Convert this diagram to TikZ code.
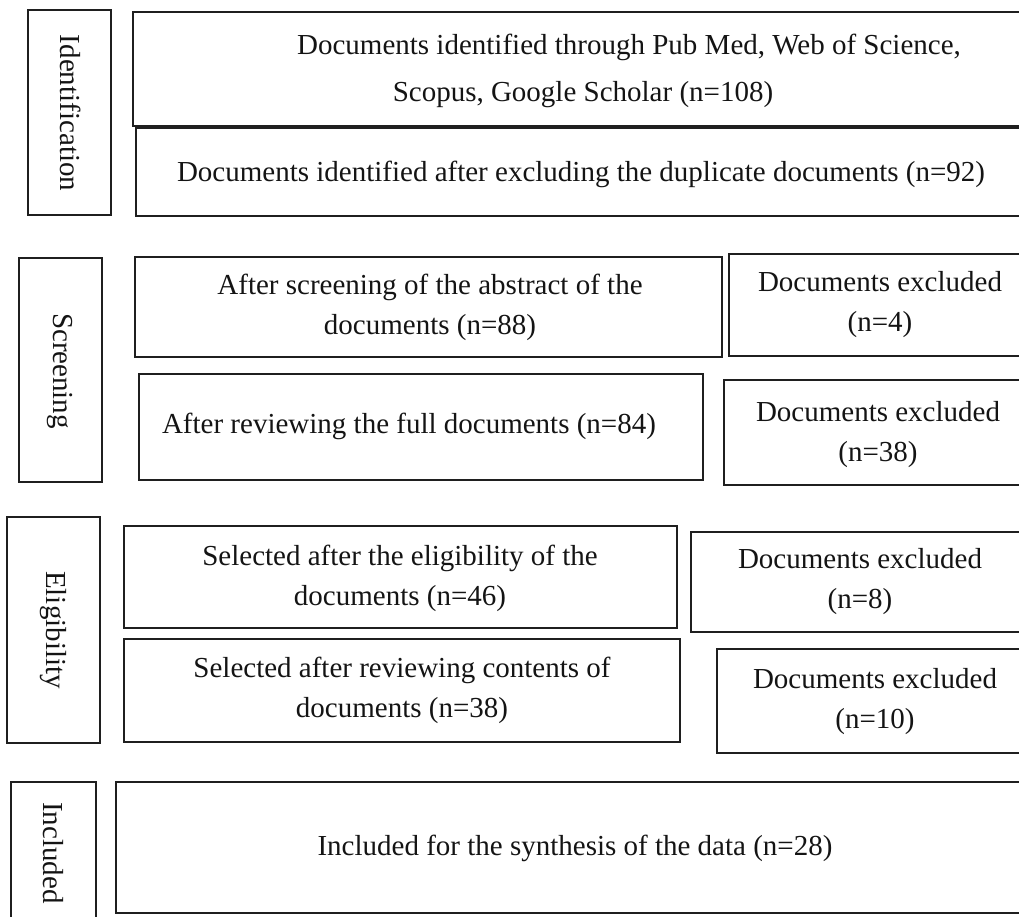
\documentclass[tikz,border=0pt]{standalone}
\usepackage{fontspec}
\setmainfont{Liberation Serif}
\begin{document}
\begin{tikzpicture}[x=1pt,y=1pt,
        box/.style={draw=black!88, line width=2.3pt},
        txt/.style={align=center, inner sep=0pt, text=black!92, font=\fontsize{29}{40}\selectfont},
        stage/.style={txt, rotate=-90}]
        \useasboundingbox (0,0) rectangle (1019,-917);
        \clip (0,0) rectangle (1019,-917);
        % identification
        \draw [box] (28,-10) rectangle (111,-215);
        \draw (71,-113) node [stage] (ident) {Identification};
        \draw [box] (133,-12) rectangle (1040,-126);
        \draw (629,-71) node [txt, font=\fontsize{29}{47}\selectfont] (found) {Documents identified through Pub Med, Web of Science,\\ \hspace*{-92pt}Scopus, Google Scholar (n=108)};
        \draw [box] (136,-128) rectangle (1040,-216);
        \draw (581,-174) node [txt] (nodup) {Documents identified after excluding the duplicate documents (n=92)};
        % screening
        \draw [box] (19,-258) rectangle (102,-482);
        \draw (60,-371) node [stage] (screen) {Screening};
        \draw [box] (135,-257) rectangle (722,-357);
        \draw (430,-307) node [txt] (abstr) {After screening of the abstract of the\\ documents (n=88)};
        \draw [box] (729,-254) rectangle (1040,-356);
        \draw (880,-305) node [txt] (excla) {Documents excluded\\ (n=4)};
        \draw [box] (139,-374) rectangle (703,-480);
        \draw (409,-426) node [txt] (full) {After reviewing the full documents (n=84)};
        \draw [box] (724,-380) rectangle (1040,-485);
        \draw (878,-435) node [txt] (exclb) {Documents excluded\\ (n=38)};
        % eligibility
        \draw [box] (7,-517) rectangle (100,-743);
        \draw (53,-630) node [stage] (elig) {Eligibility};
        \draw [box] (124,-526) rectangle (677,-628);
        \draw (400,-578) node [txt] (selone) {Selected after the eligibility of the\\ documents (n=46)};
        \draw [box] (691,-532) rectangle (1040,-632);
        \draw (860,-582) node [txt] (exclc) {Documents excluded\\ (n=8)};
        \draw [box] (124,-639) rectangle (680,-742);
        \draw (402,-690) node [txt] (seltwo) {Selected after reviewing contents of\\ documents (n=38)};
        \draw [box] (717,-649) rectangle (1040,-753);
        \draw (875,-702) node [txt] (excld) {Documents excluded\\ (n=10)};
        % included
        \draw [box] (11,-782) rectangle (96,-940);
        \draw (53,-853) node [stage] (incl) {Included};
        \draw [box] (116,-782) rectangle (1040,-913);
        \draw (575,-848) node [txt] (synth) {Included for the synthesis of the data (n=28)};
\end{tikzpicture}
\end{document}
